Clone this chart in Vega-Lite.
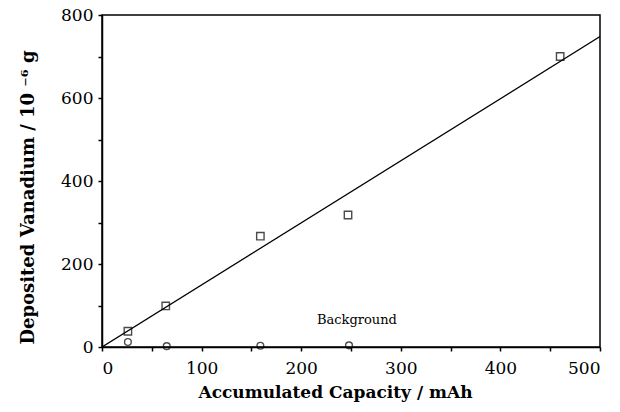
{
  "$schema": "https://vega.github.io/schema/vega-lite/v6.json",
  "width": 498,
  "height": 332,
  "autosize": {"type": "none"},
  "padding": {"left": 102, "top": 15, "right": 20, "bottom": 65},
  "background": "white",
  "config": {
    "view": {"stroke": "black", "strokeWidth": 1.5},
    "axis": {
      "domain": true, "domainColor": "black", "domainWidth": 1.5,
      "grid": false, "tickColor": "black", "tickWidth": 1.5,
      "labelFont": "DejaVu Serif", "labelFontSize": 17, "labelColor": "black",
      "titleFont": "DejaVu Serif", "titleFontSize": 18, "titleFontWeight": "bold", "titleColor": "black"
    }
  },
  "datasets": {
    "vanadium": [
      {"capacity": 26, "mass": 38},
      {"capacity": 64, "mass": 99},
      {"capacity": 159, "mass": 267},
      {"capacity": 247, "mass": 318},
      {"capacity": 460, "mass": 700}
    ],
    "background": [
      {"capacity": 26, "mass": 12},
      {"capacity": 65, "mass": 2},
      {"capacity": 159, "mass": 3},
      {"capacity": 248, "mass": 4}
    ],
    "fit": [
      {"capacity": 0, "mass": 0},
      {"capacity": 500, "mass": 748}
    ],
    "label": [
      {"capacity": 256, "mass": 65, "text": "Background"}
    ]
  },
  "layer": [
    {
      "data": {"name": "fit"},
      "mark": {"type": "line", "color": "black", "strokeWidth": 1.3, "clip": true},
      "encoding": {
        "x": {
          "field": "capacity", "type": "quantitative",
          "scale": {"domain": [0, 500], "nice": false},
          "axis": {
            "title": "Accumulated Capacity  /  mAh",
            "values": [0, 50, 100, 150, 200, 250, 300, 350, 400, 450, 500],
            "labelExpr": "datum.value % 100 == 0 ? datum.label : ''",
            "tickSize": 4, "labelPadding": 9,
            "titleFontSize": 17,
            "titleX": 233, "titleY": 37
          }
        },
        "y": {
          "field": "mass", "type": "quantitative",
          "scale": {"domain": [0, 800], "nice": false},
          "axis": {
            "title": "Deposited Vanadium  /  10 ⁻⁶ g",
            "values": [0, 100, 200, 300, 400, 500, 600, 700, 800],
            "labelExpr": "datum.value % 200 == 0 ? datum.label : ''",
            "tickSize": 4, "labelPadding": 5,
            "titleX": -65, "titleY": 182
          }
        }
      }
    },
    {
      "data": {"name": "vanadium"},
      "mark": {"type": "point", "shape": "square", "filled": false, "color": "black", "size": 55, "strokeWidth": 1.4},
      "encoding": {
        "x": {"field": "capacity", "type": "quantitative"},
        "y": {"field": "mass", "type": "quantitative"}
      }
    },
    {
      "data": {"name": "background"},
      "mark": {"type": "point", "shape": "circle", "filled": false, "color": "black", "size": 45, "strokeWidth": 1.4},
      "encoding": {
        "x": {"field": "capacity", "type": "quantitative"},
        "y": {"field": "mass", "type": "quantitative"}
      }
    },
    {
      "data": {"name": "label"},
      "mark": {"type": "text", "font": "DejaVu Serif", "fontSize": 13, "color": "black"},
      "encoding": {
        "x": {"field": "capacity", "type": "quantitative"},
        "y": {"field": "mass", "type": "quantitative"},
        "text": {"field": "text"}
      }
    }
  ]
}
